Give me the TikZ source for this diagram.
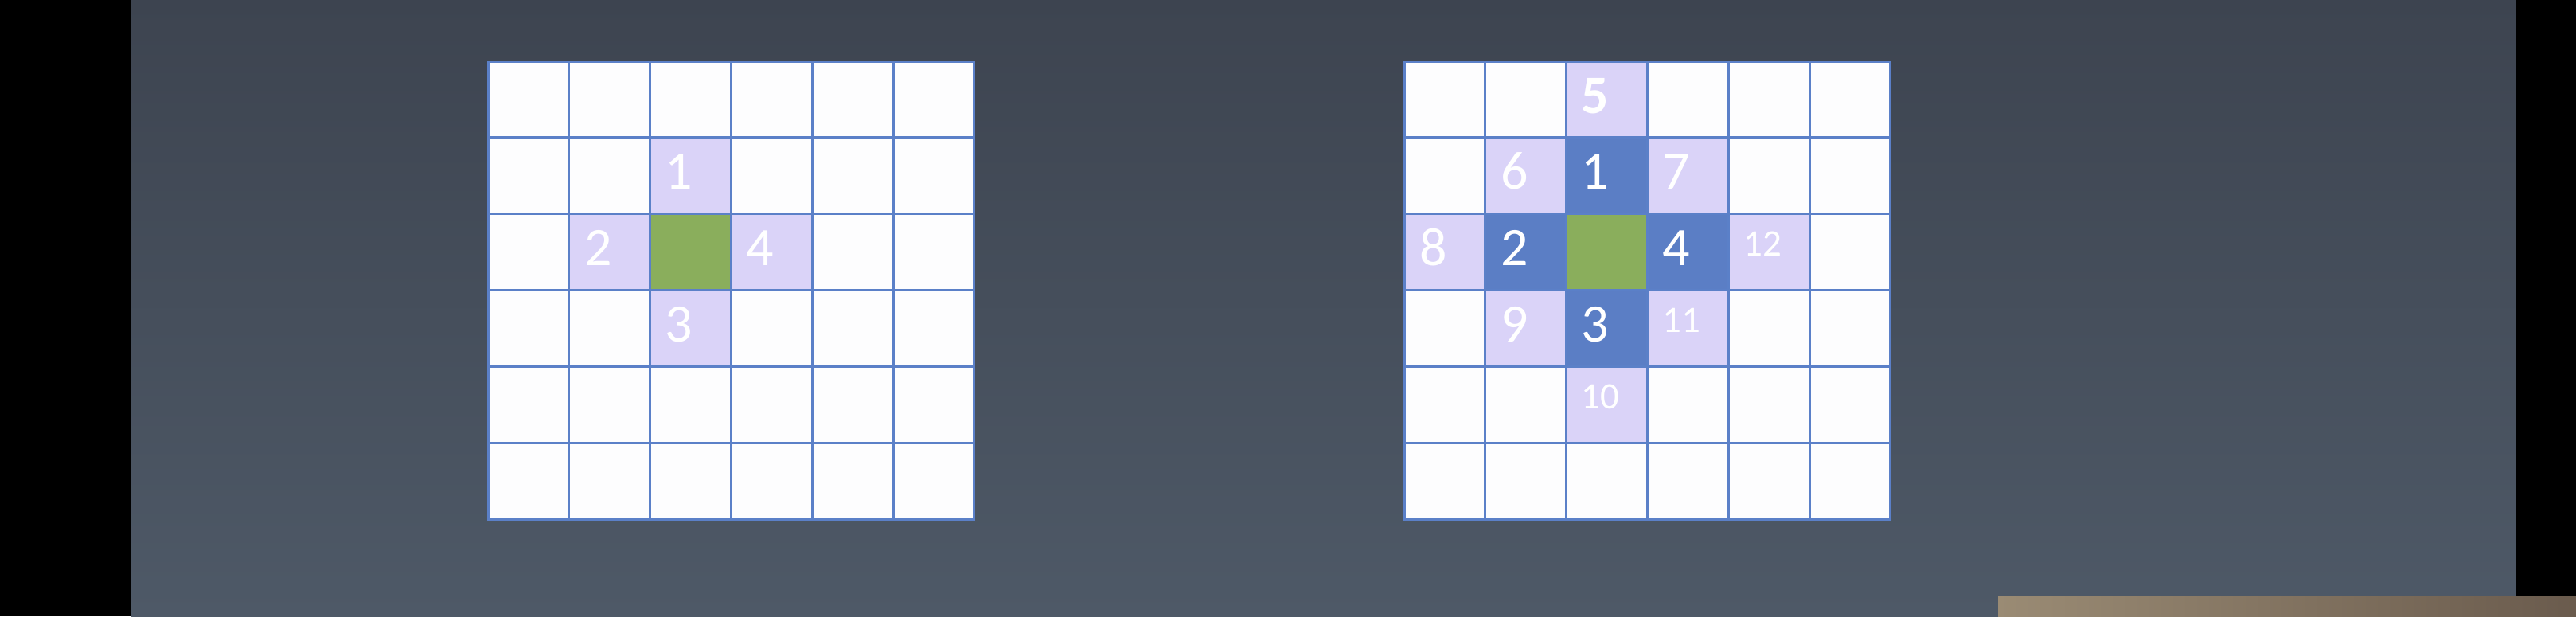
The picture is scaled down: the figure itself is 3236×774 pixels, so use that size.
\documentclass[tikz,border=0pt]{standalone}
\usepackage{fontspec}
\setmainfont{Carlito}
\usetikzlibrary{positioning}
\definecolor{slidetop}{HTML}{3D4450}
\definecolor{slidebot}{HTML}{4E5967}
\definecolor{gridblue}{HTML}{5B80C8}
\definecolor{lilac}{HTML}{DAD3F8}
\definecolor{deepblue}{HTML}{5B7EC5}
\definecolor{leaf}{HTML}{8AAE5C}
\definecolor{cellwhite}{HTML}{FDFDFE}
\definecolor{stripL}{HTML}{9A8B74}
\definecolor{stripM}{HTML}{5E5545}
\definecolor{stripR}{HTML}{6A5B4D}

\tikzset{
  cell/.style={draw=gridblue, line width=3pt, fill=cellwhite,
    minimum width=101.8pt, minimum height=95.9pt, inner sep=0pt, outer sep=0pt},
  lil/.style={fill=lilac},
  blu/.style={fill=deepblue},
  grn/.style={fill=leaf},
  bignum/.style={text=white, inner sep=0pt, anchor=base west,
    font=\fontsize{68}{68}\selectfont},
  smallnum/.style={text=white, inner sep=0pt, anchor=base west,
    font=\fontsize{47}{47}\selectfont},
}

\begin{document}
\begin{tikzpicture}[x=1pt,y=-1pt]
\useasboundingbox (0,0) rectangle (3236,774);

% slide background
\fill[black] (0,0) rectangle (3236,774);
\shade[top color=slidetop, bottom color=slidebot] (165,0) rectangle (3160,774);
\shade[left color=stripL, middle color=stripM, right color=stripR] (2510,749) rectangle (3236,774);

% the two 6x6 grids
\foreach \r in {0,...,5}
  \foreach \c in {0,...,5} {
    \node[cell] (L-\r-\c) at (663.9+\c*101.8, 125+\r*95.9) {};
    \node[cell] (R-\r-\c) at (1814.9+\c*101.8, 125+\r*95.9) {};
  }

% left grid
\node[cell,grn] (Lmid) at (L-2-2) {};
\node[cell,lil] (L1) at (L-1-2) {};
\node[cell,lil] (L2) at (L-2-1) {};
\node[cell,lil] (L3) at (L-3-2) {};
\node[cell,lil] (L4) at (L-2-3) {};
\node[bignum] (l1) at ([shift={(19,65)}]L1.north west) {1};
\node[bignum] (l2) at ([shift={(19,65)}]L2.north west) {2};
\node[bignum] (l3) at ([shift={(19,65)}]L3.north west) {3};
\node[bignum] (l4) at ([shift={(19,65)}]L4.north west) {4};

% right grid
\node[cell,grn] (Rmid) at (R-2-2) {};
\node[cell,blu] (R1) at (R-1-2) {};
\node[cell,blu] (R2) at (R-2-1) {};
\node[cell,blu] (R3) at (R-3-2) {};
\node[cell,blu] (R4) at (R-2-3) {};
\node[cell,lil] (R5) at (R-0-2) {};
\node[cell,lil] (R6) at (R-1-1) {};
\node[cell,lil] (R7) at (R-1-3) {};
\node[cell,lil] (R8) at (R-2-0) {};
\node[cell,lil] (R9) at (R-3-1) {};
\node[cell,lil] (R10) at (R-4-2) {};
\node[cell,lil] (R11) at (R-3-3) {};
\node[cell,lil] (R12) at (R-2-4) {};
\node[bignum] (r1) at ([shift={(19,65)}]R1.north west) {1};
\node[bignum] (r2) at ([shift={(19,65)}]R2.north west) {2};
\node[bignum] (r3) at ([shift={(19,65)}]R3.north west) {3};
\node[bignum] (r4) at ([shift={(19,65)}]R4.north west) {4};
\node[bignum,font=\fontsize{68}{68}\selectfont\bfseries] (r5) at ([shift={(19,65)}]R5.north west) {5};
\node[bignum] (r6) at ([shift={(19,65)}]R6.north west) {6};
\node[bignum] (r7) at ([shift={(19,65)}]R7.north west) {7};
\node[bignum] (r8) at ([shift={(19,65)}]R8.north west) {8};
\node[bignum] (r9) at ([shift={(19,65)}]R9.north west) {9};
\node[smallnum] (r10) at ([shift={(19,53)}]R10.north west) {10};
\node[smallnum] (r11) at ([shift={(19,53)}]R11.north west) {11};
\node[smallnum] (r12) at ([shift={(19,53)}]R12.north west) {12};
\end{tikzpicture}
\end{document}
